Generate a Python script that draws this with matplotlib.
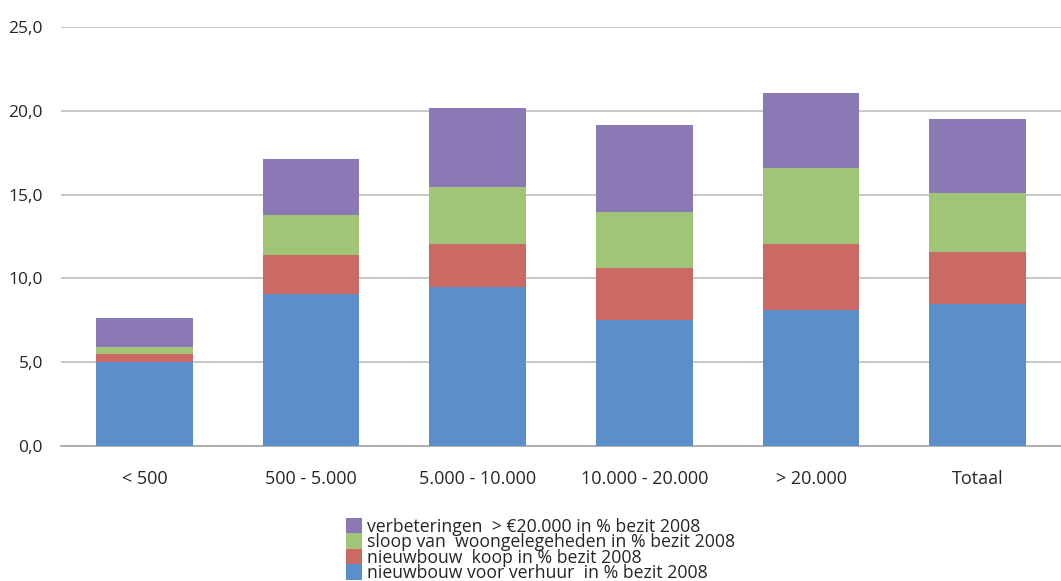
import numpy as np
import matplotlib.pyplot as plt

# data
categories = ["< 500", "500 - 5.000", "5.000 - 10.000", "10.000 - 20.000", "> 20.000", "Totaal"]
verhuur = [5.0, 9.09, 9.47, 7.52, 8.11, 8.47]
koop = [0.49, 2.31, 2.58, 3.10, 3.94, 3.10]
sloop = [0.41, 2.38, 3.40, 3.34, 4.54, 3.53]
verbeteringen = [1.74, 3.34, 4.72, 5.19, 4.47, 4.41]

labels = [
    "nieuwbouw voor verhuur  in % bezit 2008",
    "nieuwbouw  koop in % bezit 2008",
    "sloop van  woongelegeheden in % bezit 2008",
    "verbeteringen  > \u20ac20.000 in % bezit 2008",
]
colors = ["#5b8fc9", "#cb6a64", "#a0c577", "#8b79b6"]

plt.rcParams["font.family"] = ["Open Sans", "DejaVu Sans"]

fig = plt.figure(figsize=(10.61, 5.81), dpi=100)
ax = fig.add_axes([0.0575, 0.2324, 0.9425, 0.7211])

x = np.arange(len(categories))
bottom = np.zeros(len(categories))
handles = []
for vals, lab, col in zip([verhuur, koop, sloop, verbeteringen], labels, colors):
    b = ax.bar(x, vals, width=0.58, bottom=bottom, color=col, label=lab, zorder=3)
    handles.append(b)
    bottom += np.array(vals)

ax.set_xlim(-0.5, 5.5)
ax.set_ylim(0, 25)
ax.set_yticks(np.arange(0, 26, 5))
ax.set_yticklabels([f"{v:.1f}".replace(".", ",") for v in np.arange(0, 26, 5)])
ax.set_xticks(x)
ax.set_xticklabels(categories)
ax.yaxis.grid(True, color="#bdbdbd", linewidth=1.2, zorder=0)
for s in ["top", "right", "left"]:
    ax.spines[s].set_visible(False)
ax.spines["bottom"].set_color("#a6a6a6")
ax.spines["bottom"].set_linewidth(1.2)
ax.tick_params(axis="both", length=0, colors="#262626")
ax.tick_params(axis="y", labelsize=12.5, pad=13)
ax.tick_params(axis="x", labelsize=13, pad=17)

fig.legend(handles[::-1], labels[::-1], loc="upper left",
           bbox_to_anchor=(0.318, 1 - 509 / 581), frameon=False,
           fontsize=12.7, borderpad=0, labelspacing=-0.15, handlelength=0.9,
           handleheight=1.0, handletextpad=0.3, labelcolor="#262626")

fig.savefig("out.png", dpi=100)
